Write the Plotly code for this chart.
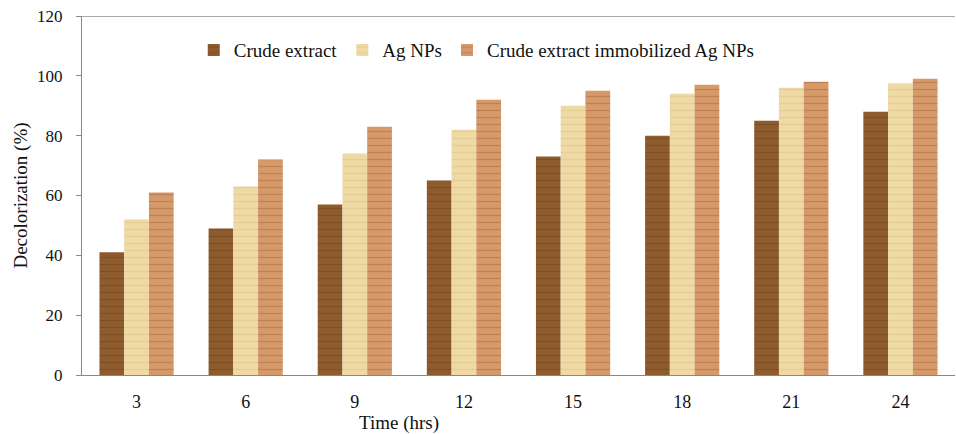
import plotly.graph_objects as go

time_labels = ["3", "6", "9", "12", "15", "18", "21", "24"]
crude_extract = [41, 49, 57, 65, 73, 80, 85, 88]
ag_nps = [52, 63, 74, 82, 90, 94, 96, 97.5]
crude_immobilized = [61, 72, 83, 92, 95, 97, 98, 99]

series = [
    ("Crude extract", crude_extract, "#8E5B2D", "#6E4220"),
    ("Ag NPs", ag_nps, "#EFD9A4", "#DCC28A"),
    ("Crude extract immobilized Ag NPs", crude_immobilized, "#D6996A", "#A8683C"),
]

fig = go.Figure()
for name, vals, col, grain in series:
    fig.add_trace(go.Bar(
        x=time_labels, y=vals, name=name,
        marker=dict(color=col, line=dict(width=0),
                    pattern=dict(shape="-", fgcolor=grain, size=7, solidity=0.18)),
    ))

font_family = "Liberation Serif, Times New Roman, serif"
fig.update_layout(
    width=956, height=434,
    margin=dict(l=82, r=1, t=16, b=59),
    paper_bgcolor="white", plot_bgcolor="white",
    barmode="group", bargap=0.32, bargroupgap=0,
    font=dict(family=font_family, size=17, color="#111"),
    showlegend=True,
    legend=dict(orientation="h", x=0.128, y=0.905, xanchor="left", yanchor="middle",
                font=dict(family=font_family, size=19, color="#111"),
                bgcolor="rgba(0,0,0,0)", itemwidth=30, traceorder="normal"),
    xaxis=dict(showline=True, linecolor="#888", linewidth=1, ticks="",
               tickfont=dict(size=18), showgrid=False, ticklabelstandoff=10),
    yaxis=dict(range=[0, 120], dtick=20, showline=True, linecolor="#888", linewidth=1,
               ticks="outside", ticklen=5, tickcolor="#888", showgrid=False,
               zeroline=False, tickfont=dict(size=17), ticklabelstandoff=10,
               title=dict(text="Decolorization (%)", font=dict(size=19), standoff=4)),
    shapes=[dict(type="line", xref="paper", yref="y", x0=0, x1=1, y0=120, y1=120,
                 line=dict(color="#555", width=1))],
    annotations=[dict(text="Time (hrs)", xref="paper", yref="paper",
                      x=(399 - 82) / 873, y=-0.135, xanchor="center", yanchor="middle",
                      showarrow=False, font=dict(size=19, family=font_family))],
)

fig.write_html("out.html")
